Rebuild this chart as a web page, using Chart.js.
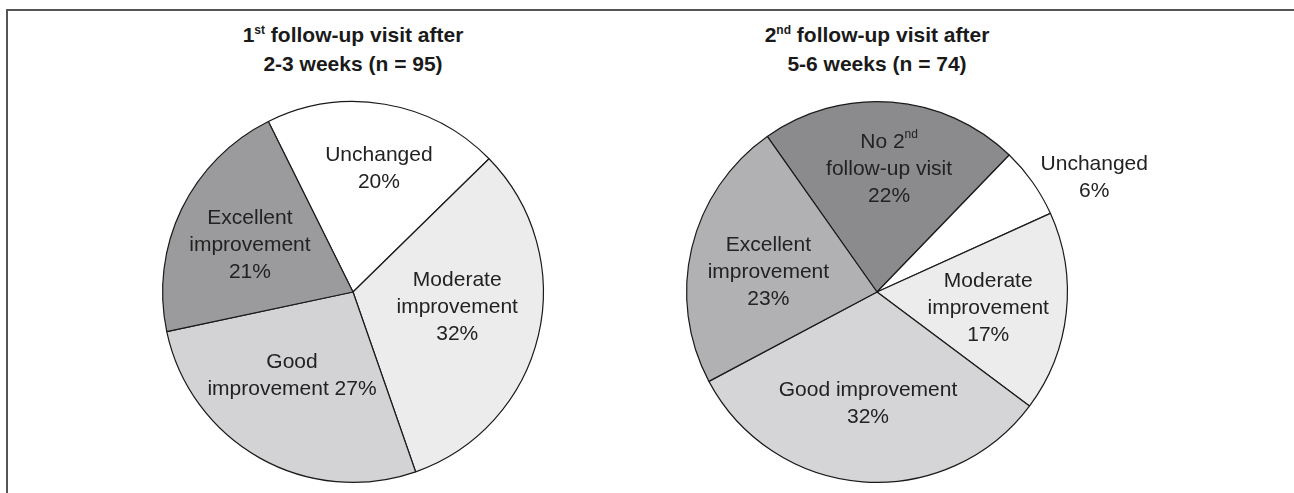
<!DOCTYPE html>
<html>
<head>
<meta charset="utf-8">
<script src="https://cdn.jsdelivr.net/npm/chart.js@4/dist/chart.umd.min.js"></script>
<style>
  html, body { margin: 0; padding: 0; background: #fff; }
  body { width: 1294px; height: 493px; position: relative; overflow: hidden; font-family: "Liberation Sans", Arial, sans-serif; }
  #frame { position: absolute; left: 6px; top: 9px; width: 1300px; height: 500px; border-top: 2px solid #555; border-left: 2px solid #555; }
  .title { position: absolute; width: 400px; text-align: center; font-weight: bold; font-size: 21px; line-height: 26px; color: #1a1a1a; top: 22px; }
  .title sup { font-size: 12px; vertical-align: baseline; position: relative; top: -8px; }
  canvas { position: absolute; }
</style>
</head>
<body>
<div id="frame"></div>
<div class="title" style="left:153px">1<sup>st</sup> follow-up visit after<br>2-3 weeks (n = 95)</div>
<div class="title" style="left:677px">2<sup>nd</sup> follow-up visit after<br>5-6 weeks (n = 74)</div>
<canvas id="c1" width="480" height="400" style="left:113px;top:92px;width:480px;height:400px"></canvas>
<canvas id="c2" width="600" height="400" style="left:577px;top:92px;width:600px;height:400px"></canvas>
<script>
// ---- Data ----
const categories1 = ['Unchanged', 'Moderate improvement', 'Good improvement', 'Excellent improvement'];
const values1 = [20, 32, 27, 21];
const labelLines1 = [
  ['Unchanged', '20%'],
  ['Moderate', 'improvement', '32%'],
  ['Good', 'improvement 27%'],
  ['Excellent', 'improvement', '21%']
];

const categories2 = ['No 2nd follow-up visit', 'Unchanged', 'Moderate improvement', 'Good improvement', 'Excellent improvement'];
const values2 = [22, 6, 17, 32, 23];
const labelLines2 = [
  ['No 2^nd', 'follow-up visit', '22%'],
  ['Unchanged', '6%'],
  ['Moderate', 'improvement', '17%'],
  ['Good improvement', '32%'],
  ['Excellent', 'improvement', '23%']
];

// ---- Styles / placement ----
const colors1 = ['#ffffff', '#ececec', '#d3d3d5', '#9b9b9d'];
const colors2 = ['#8b8b8d', '#ffffff', '#ececec', '#d5d5d7', '#b1b1b3'];
// label anchor: fraction of radius, angle offset (deg) from slice middle
const place1 = [{r: 0.66, d: 2.3}, {r: 0.553, d: -5}, {r: 0.545, d: 6.6}, {r: 0.595, d: -1.3}];
const place2 = [{r: 0.65, d: 1.2}, {r: 1.29, d: 7.4}, {r: 0.59, d: 1.9}, {r: 0.59, d: 0.2}, {r: 0.58, d: -3}];

const FONT = '"Liberation Sans", Arial, sans-serif';
const MAIN_PX = 21, SUP_PX = 12, LINE_H = 27;

function drawRichLine(ctx, text, cx, cy) {
  const parts = [];
  const m = text.split('^');
  parts.push({t: m[0], sup: false});
  if (m.length > 1) parts.push({t: m[1], sup: true});
  let total = 0;
  parts.forEach(p => {
    ctx.font = (p.sup ? SUP_PX : MAIN_PX) + 'px ' + FONT;
    p.w = ctx.measureText(p.t).width;
    total += p.w;
  });
  let x = cx - total / 2;
  parts.forEach(p => {
    ctx.font = (p.sup ? SUP_PX : MAIN_PX) + 'px ' + FONT;
    ctx.textAlign = 'left';
    ctx.textBaseline = 'middle';
    ctx.fillText(p.t, x, p.sup ? cy - 7 : cy);
    x += p.w;
  });
}

const sliceLabels = {
  id: 'sliceLabels',
  afterDatasetsDraw(chart, args, opts) {
    const ctx = chart.ctx;
    const meta = chart.getDatasetMeta(0);
    ctx.save();
    ctx.fillStyle = '#222';
    meta.data.forEach((arc, i) => {
      const p = arc.getProps(['x', 'y', 'startAngle', 'endAngle', 'outerRadius'], true);
      const pl = opts.place[i];
      const a = (p.startAngle + p.endAngle) / 2 + pl.d * Math.PI / 180;
      const cx = p.x + Math.cos(a) * p.outerRadius * pl.r;
      const cy = p.y + Math.sin(a) * p.outerRadius * pl.r;
      const lines = opts.lines[i];
      const y0 = cy - (lines.length - 1) * LINE_H / 2;
      lines.forEach((ln, k) => drawRichLine(ctx, ln, cx, y0 + k * LINE_H));
    });
    ctx.restore();
  }
};

function makePie(id, cats, vals, cols, rotation, padX, lines, place) {
  return new Chart(document.getElementById(id), {
    type: 'pie',
    data: {
      labels: cats,
      datasets: [{
        data: vals,
        backgroundColor: cols,
        borderColor: '#1a1a1a',
        borderWidth: 1.2
      }]
    },
    options: {
      responsive: false,
      animation: false,
      rotation: rotation,
      layout: { padding: { left: padX, right: padX, top: 9, bottom: 9 } },
      plugins: {
        legend: { display: false },
        tooltip: { enabled: false },
        title: { display: false },
        sliceLabels: { lines: lines, place: place }
      }
    },
    plugins: [sliceLabels]
  });
}

makePie('c1', categories1, values1, colors1, -26.4, 49, labelLines1, place1);
makePie('c2', categories2, values2, colors2, -35.2, 109, labelLines2, place2);
</script>
</body>
</html>
